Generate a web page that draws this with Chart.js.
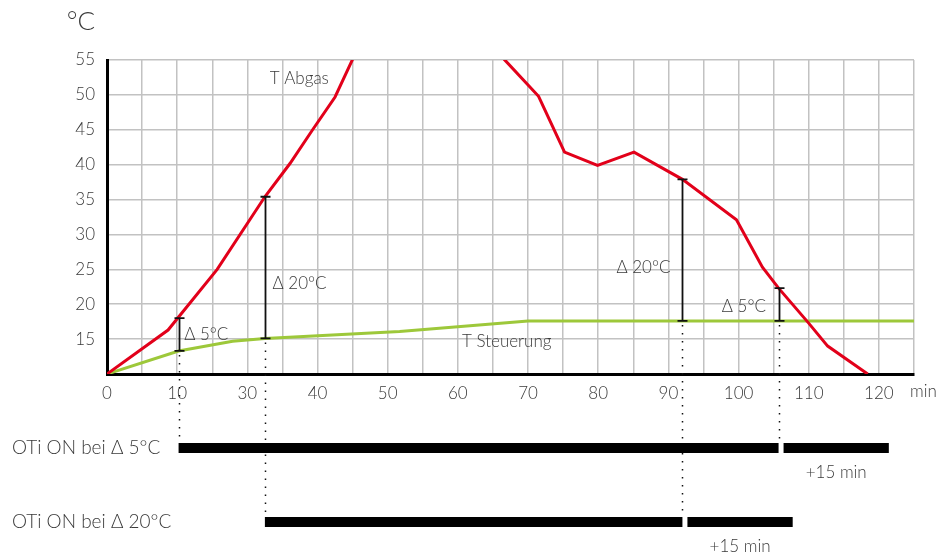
<!DOCTYPE html>
<html>
<head>
<meta charset="utf-8">
<script src="https://cdn.jsdelivr.net/npm/chart.js@4.4.0/dist/chart.umd.min.js"></script>
<style>
  body { margin: 0; background: #fff; }
  canvas { display: block; }
</style>
</head>
<body>
<canvas id="tempChart" width="946" height="558"></canvas>
<script>
// tick labels as printed on the original (every second grid line)
const xTickLabels = ["0", "10", "30", "40", "50", "60", "70", "80", "90", "100", "110", "120"];

// T Abgas (red) - goes above 55 between ~35 and ~57 and is cut off there
const abgasX = [0, 8.7, 15.7, 22.5, 26.1, 29.3, 32.5, 35.0, 37.5, 46, 54, 56.6, 61.5, 65.2, 69.9, 75.1, 82.0, 89.7, 93.4, 95.7, 99.9, 102.7, 108.4];
const abgasY = [10, 16.3, 25.0, 35.4, 40.2, 45.0, 49.7, 55.1, 61, 66, 61, 55.1, 49.8, 41.8, 39.9, 41.8, 37.9, 32.1, 25.3, 22.3, 17.4, 14.0, 10];

// T Steuerung (green)
const steuerX = [0, 10.2, 17.9, 22.5, 41.7, 60, 115];
const steuerY = [10, 13.3, 14.7, 15.1, 16.1, 17.6, 17.6];

// delta markers between the two curves
const deltaX = [10.2, 22.5, 82.0, 95.7];
const deltaLow = [13.3, 15.1, 17.6, 17.6];
const deltaHigh = [18.0, 35.4, 37.9, 22.3];
const deltaRow = [0, 1, 1, 0];

// text notes in the plot
const noteText = ["T Abgas", "T Steuerung", "Δ 5°C", "Δ 20°C", "Δ 20°C", "Δ 5°C"];
const noteX = [23.2, 50.6, 11.0, 23.6, 80.3, 93.9];
const noteY = [52.4, 14.6, 15.6, 23.0, 25.2, 19.7];
const noteAlign = ["left", "left", "left", "left", "right", "right"];

// OTi ON rows below the chart
const rowLabels = ["OTi ON bei Δ 5°C", "OTi ON bei Δ 20°C"];
const rowOn = [10.2, 22.5];
const rowOff = [95.7, 82.0];
const afterRun = 15;

const textColor = "#3a3a3a";
const fontFamily = "Lato, 'Open Sans', sans-serif";

function points(xs, ys) {
  return xs.map((x, i) => ({ x: x, y: ys[i] }));
}

const overlayPlugin = {
  id: "overlay",
  afterDatasetsDraw(chart) {
    const { ctx, chartArea } = chart;
    const x = chart.scales.x;
    const y = chart.scales.y;
    const rowY = [chartArea.bottom + 74, chartArea.bottom + 148];

    ctx.save();

    // dotted guide lines down to the bars
    ctx.strokeStyle = "#111";
    ctx.lineWidth = 1.5;
    ctx.setLineDash([1.5, 6.5]);
    deltaX.forEach((dx, i) => {
      const px = Math.round(x.getPixelForValue(dx)) + 0.5;
      ctx.beginPath();
      ctx.moveTo(px, y.getPixelForValue(deltaLow[i]) + 4);
      ctx.lineTo(px, rowY[deltaRow[i]] - 5);
      ctx.stroke();
    });
    ctx.setLineDash([]);

    // delta markers with caps
    ctx.lineWidth = 1.8;
    deltaX.forEach((dx, i) => {
      const px = Math.round(x.getPixelForValue(dx)) + 0.5;
      const top = y.getPixelForValue(deltaHigh[i]);
      const bot = y.getPixelForValue(deltaLow[i]);
      ctx.beginPath();
      ctx.moveTo(px, top);
      ctx.lineTo(px, bot);
      ctx.moveTo(px - 5, top);
      ctx.lineTo(px + 5, top);
      ctx.moveTo(px - 5, bot);
      ctx.lineTo(px + 5, bot);
      ctx.stroke();
    });

    // notes
    ctx.fillStyle = textColor;
    ctx.font = "300 17px " + fontFamily;
    ctx.textBaseline = "middle";
    noteText.forEach((t, i) => {
      ctx.textAlign = noteAlign[i];
      ctx.fillText(t, x.getPixelForValue(noteX[i]), y.getPixelForValue(noteY[i]));
    });

    // unit labels
    ctx.font = "300 26px " + fontFamily;
    ctx.textAlign = "center";
    ctx.fillText("°C", chartArea.left - 26, 22);
    ctx.font = "300 17px " + fontFamily;
    ctx.textAlign = "left";
    ctx.fillText("min", chartArea.right - 4, chartArea.bottom + 18);

    // OTi rows
    rowLabels.forEach((label, i) => {
      ctx.fillStyle = textColor;
      ctx.font = "300 19px " + fontFamily;
      ctx.textAlign = "left";
      ctx.fillText(label, 12, rowY[i]);

      const x0 = x.getPixelForValue(rowOn[i]);
      const x1 = x.getPixelForValue(rowOff[i]);
      const x2 = x1 + 5;
      const x3 = x.getPixelForValue(rowOff[i] + afterRun) + 5;
      ctx.fillStyle = "#000";
      ctx.fillRect(x0, rowY[i] - 5, x1 - x0, 10);
      ctx.fillRect(x2, rowY[i] - 5, x3 - x2, 10);

      ctx.fillStyle = textColor;
      ctx.font = "300 17px " + fontFamily;
      ctx.textAlign = "center";
      ctx.fillText("+" + afterRun + " min", (x2 + x3) / 2, rowY[i] + 25);
    });

    ctx.restore();
  }
};

new Chart(document.getElementById("tempChart"), {
  type: "line",
  data: {
    datasets: [
      {
        label: "T Abgas",
        data: points(abgasX, abgasY),
        borderColor: "#e2001a",
        borderWidth: 3,
        pointRadius: 0,
        tension: 0,
        clip: 0
      },
      {
        label: "T Steuerung",
        data: points(steuerX, steuerY),
        borderColor: "#9dc83a",
        borderWidth: 3,
        pointRadius: 0,
        tension: 0,
        clip: 0
      }
    ]
  },
  options: {
    responsive: false,
    animation: false,
    devicePixelRatio: 1,
    layout: { padding: { top: 60, right: 32, left: 0, bottom: 0 } },
    plugins: {
      legend: { display: false },
      tooltip: { enabled: false }
    },
    scales: {
      x: {
        type: "linear",
        min: 0,
        max: 115,
        afterFit(scale) { scale.height = 184; },
        grid: { color: "#c2c2c2", lineWidth: 1.5, drawTicks: false },
        border: { color: "#000", width: 3 },
        ticks: {
          stepSize: 5,
          autoSkip: false,
          maxRotation: 0,
          padding: 9,
          color: textColor,
          font: { family: fontFamily, size: 17, weight: "300" },
          callback(value) {
            const i = Math.round(value / 5);
            if (i % 2 !== 0) return "";
            return xTickLabels[i / 2] || "";
          }
        }
      },
      y: {
        min: 10,
        max: 55,
        afterFit(scale) { scale.width = 107; },
        grid: { color: "#c2c2c2", lineWidth: 1.5, drawTicks: false },
        border: { color: "#000", width: 3 },
        ticks: {
          stepSize: 5,
          padding: 12,
          color: textColor,
          font: { family: fontFamily, size: 17, weight: "300" },
          callback(value) {
            return value === 10 ? "" : value;
          }
        }
      }
    }
  },
  plugins: [overlayPlugin]
});
</script>
</body>
</html>
